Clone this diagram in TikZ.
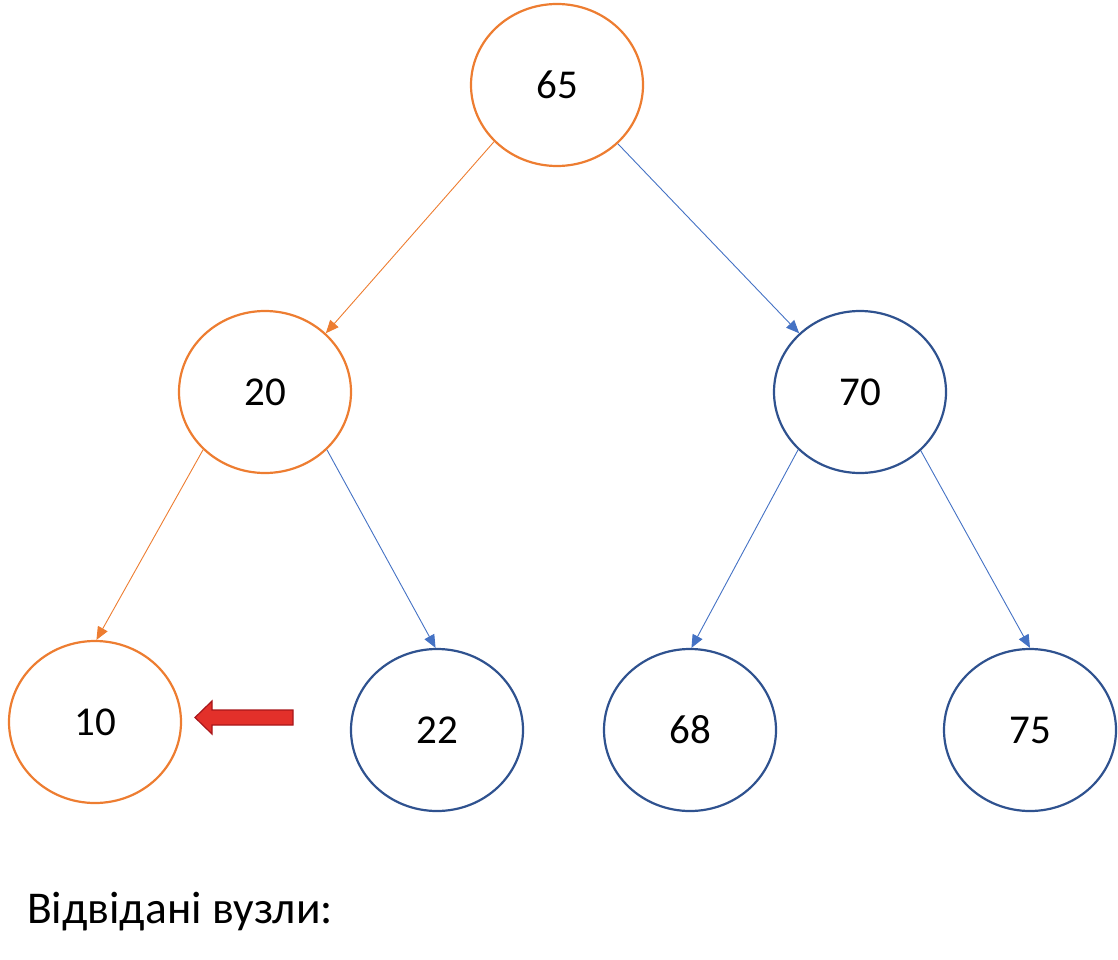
\documentclass[tikz,border=0pt]{standalone}
\usepackage{fontspec}
\setmainfont{Carlito}
\usetikzlibrary{shapes.geometric, arrows.meta}

\definecolor{visitorange}{HTML}{ED7D31}
\definecolor{nodeblue}{HTML}{2F528F}
\definecolor{edgeblue}{HTML}{4472C4}
\definecolor{pointerred}{HTML}{E3302A}
\definecolor{pointerdark}{HTML}{A8161A}

\begin{document}
\begin{tikzpicture}[x=1pt, y=-1pt,
    treenode/.style={ellipse, draw, line width=2.2pt, minimum width=172pt, minimum height=162pt, inner sep=0pt, font=\fontsize{41}{48}\selectfont},
    edge/.style={line width=0.9pt, -{Triangle[length=13pt, width=11pt]}}
    ]

    % Page size
    \def\wpage{1118}
    \def\hpage{960}
    \useasboundingbox (0,0) rectangle (\wpage,\hpage);

    % Nodes of the tree
    \foreach \v/\x/\y/\col in {65/557/85/visitorange, 20/265/392/visitorange, 70/860/392/nodeblue,
        10/95/722/visitorange, 22/437/730/nodeblue, 68/690/730/nodeblue, 75/1030/730/nodeblue}{
        \node[treenode, draw=\col] (n\v) at (\x,\y) {\v};
    }

    % Edges
    \foreach \a/\sa/\b/\eb/\col in {65/222/20/44/visitorange, 65/316/70/136/edgeblue,
        20/223/10/89/visitorange, 20/317/22/91/edgeblue,
        70/223/68/89/edgeblue, 70/316/75/90/edgeblue}{
        \draw[edge, \col] (n\a.\sa) -- (n\b.\eb);
    }

    % Pointer to the current node
    \filldraw[fill=pointerred, draw=pointerdark, line width=1.2pt, line join=miter]
        (293,710) -- (212,710) -- (212,701) -- (195,717.5) -- (212,734) -- (212,725) -- (293,725) -- cycle;

    % Visited nodes
    \node[anchor=base west, inner sep=0pt, font=\fontsize{45.5}{54}\selectfont] (visited) at (27,923) {Відвідані вузли:};

\end{tikzpicture}
\end{document}
